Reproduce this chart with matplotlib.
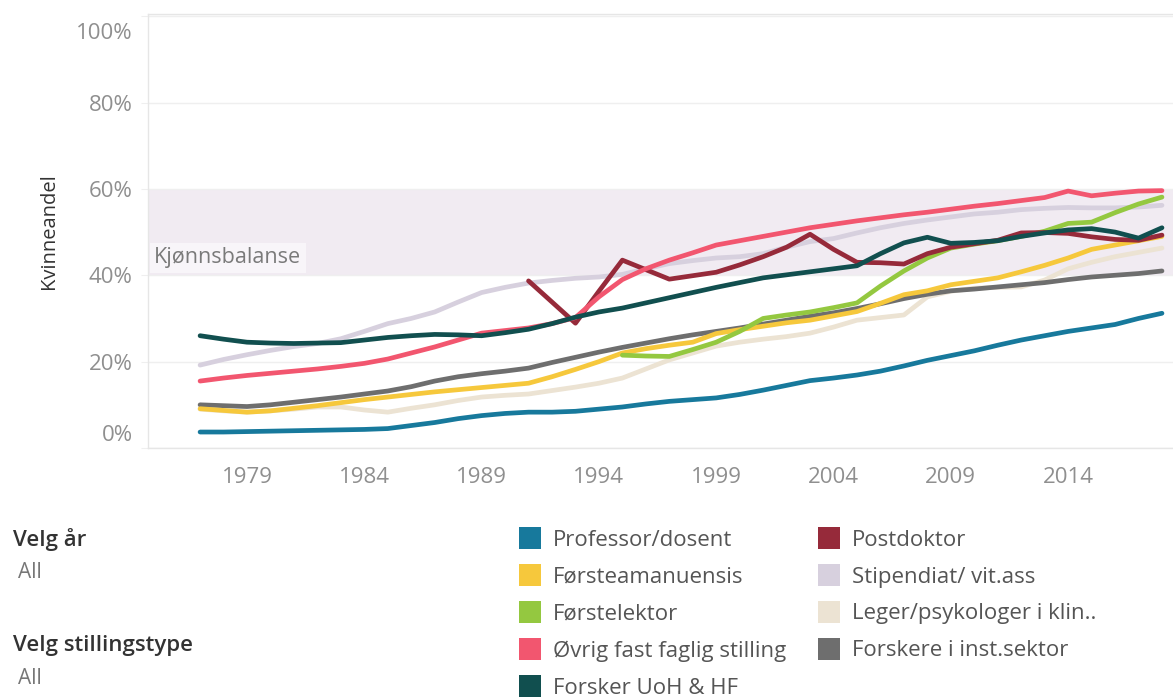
import matplotlib
matplotlib.use("Agg")
import matplotlib.pyplot as plt
import matplotlib.transforms as mtransforms
from matplotlib.patches import Rectangle

plt.rcParams['font.family'] = ['Open Sans', 'DejaVu Sans']

# ---- data (kvinneandel i prosent) ----
years = list(range(1977, 2019))

professor = [3.7, 3.7, 3.8, 3.9, 4.0, 4.1, 4.2, 4.3, 4.5, 5.2, 5.9, 6.8, 7.5, 8.0, 8.3,
             8.3, 8.5, 9.0, 9.5, 10.2, 10.8, 11.2, 11.6, 12.4, 13.4, 14.5, 15.6, 16.2,
             16.9, 17.8, 19.0, 20.3, 21.4, 22.5, 23.8, 25.0, 26.0, 27.0, 27.8, 28.6,
             30.0, 31.2]
forsteamanuensis = [9.1, 8.7, 8.3, 8.6, 9.2, 9.8, 10.5, 11.2, 11.8, 12.4, 13.0, 13.5, 14.0,
                    14.5, 15.0, 16.5, 18.2, 20.0, 22.0, 23.0, 23.8, 24.5, 26.5, 27.4, 28.2,
                    29.0, 29.6, 30.6, 31.6, 33.5, 35.5, 36.4, 37.8, 38.6, 39.4, 40.8, 42.3,
                    44.0, 46.0, 47.0, 48.0, 49.0]
forstelektor_years = list(range(1995, 2019))
forstelektor = [21.5, 21.3, 21.2, 22.8, 24.5, 27.0, 30.0, 30.8, 31.5, 32.5, 33.6, 37.5,
                41.0, 44.0, 46.3, 47.2, 48.0, 49.0, 50.2, 52.0, 52.3, 54.5, 56.5, 58.1]
ovrig = [15.5, 16.2, 16.8, 17.3, 17.8, 18.3, 18.9, 19.6, 20.6, 22.0, 23.4, 25.0, 26.6, 27.2,
         27.8, 28.8, 30.2, 35.0, 39.0, 41.5, 43.5, 45.2, 47.0, 48.0, 49.0, 50.0, 51.0, 51.8,
         52.6, 53.3, 54.0, 54.6, 55.3, 56.0, 56.6, 57.3, 58.0, 59.5, 58.4, 59.0, 59.5, 59.6]
forsker_uoh = [26.0, 25.2, 24.5, 24.3, 24.2, 24.3, 24.4, 25.0, 25.6, 26.0, 26.3, 26.2, 26.0,
               26.7, 27.5, 28.8, 30.3, 31.5, 32.4, 33.6, 34.8, 36.0, 37.2, 38.3, 39.4, 40.1,
               40.8, 41.5, 42.2, 45.0, 47.5, 48.8, 47.4, 47.6, 48.0, 49.0, 49.8, 50.5, 50.8,
               50.0, 48.6, 51.0]
postdoktor_years = list(range(1991, 2019))
postdoktor = [38.7, 33.8, 28.9, 36.3, 43.5, 41.3, 39.1, 39.9, 40.7, 42.4, 44.3, 46.5, 49.5,
              46.0, 43.0, 42.9, 42.6, 45.0, 46.5, 47.3, 48.1, 49.8, 49.9, 49.7, 48.9, 48.3,
              48.1, 49.3]
stipendiat = [19.2, 20.5, 21.6, 22.6, 23.5, 24.2, 25.3, 27.0, 28.8, 30.0, 31.5, 33.8, 36.0,
              37.2, 38.2, 38.8, 39.3, 39.6, 40.2, 41.5, 42.7, 43.4, 44.0, 44.3, 45.0, 46.5,
              47.8, 48.5, 49.8, 51.0, 52.0, 52.8, 53.5, 54.2, 54.6, 55.2, 55.5, 55.7, 55.6,
              55.6, 55.8, 56.2]
leger = [9.0, 8.6, 8.3, 8.6, 9.0, 9.5, 9.5, 8.8, 8.3, 9.2, 10.0, 11.0, 11.8, 12.2, 12.5, 13.3,
         14.1, 15.0, 16.2, 18.3, 20.4, 22.0, 23.6, 24.5, 25.2, 25.8, 26.6, 28.0, 29.6, 30.2,
         30.8, 35.0, 36.3, 37.0, 37.2, 37.3, 38.9, 41.5, 43.0, 44.3, 45.3, 46.3]
forskere_inst = [10.0, 9.8, 9.6, 10.0, 10.6, 11.2, 11.8, 12.5, 13.2, 14.2, 15.5, 16.5, 17.2,
                 17.8, 18.5, 19.8, 21.0, 22.2, 23.3, 24.3, 25.3, 26.2, 27.0, 27.8, 28.7, 29.6,
                 30.5, 31.3, 32.3, 33.4, 34.6, 35.6, 36.4, 36.8, 37.3, 37.8, 38.3, 39.0, 39.6,
                 40.0, 40.4, 41.0]

legend_labels = ['Professor/dosent', 'Førsteamanuensis', 'Førstelektor',
                 'Øvrig fast faglig stilling', 'Forsker UoH & HF',
                 'Postdoktor', 'Stipendiat/ vit.ass', 'Leger/psykologer i klin..',
                 'Forskere i inst.sektor']
y_ticks = [0, 20, 40, 60, 80, 100]
x_ticks = [1979, 1984, 1989, 1994, 1999, 2004, 2009, 2014]

colors = {
    'Professor/dosent': '#17799c',
    'Førsteamanuensis': '#f6c83c',
    'Førstelektor': '#94c840',
    'Øvrig fast faglig stilling': '#f2566f',
    'Forsker UoH & HF': '#114f4f',
    'Postdoktor': '#962a3a',
    'Stipendiat/ vit.ass': '#d7d0de',
    'Leger/psykologer i klin..': '#ece3d3',
    'Forskere i inst.sektor': '#6e6e6e',
}

series = [  # drawing order, bottom first
    ('Stipendiat/ vit.ass', years, stipendiat),
    ('Leger/psykologer i klin..', years, leger),
    ('Forskere i inst.sektor', years, forskere_inst),
    ('Førsteamanuensis', years, forsteamanuensis),
    ('Førstelektor', forstelektor_years, forstelektor),
    ('Professor/dosent', years, professor),
    ('Postdoktor', postdoktor_years, postdoktor),
    ('Øvrig fast faglig stilling', years, ovrig),
    ('Forsker UoH & HF', years, forsker_uoh),
]

W, H = 1173, 697
fig = plt.figure(figsize=(W / 100, H / 100), dpi=100)
ax = fig.add_axes([148 / W, 1 - 448 / H, 1 - 148 / W, 434 / H])

# gender balance band
ax.axhspan(40, 60, color='#f1ebf2', zorder=0, lw=0)
ax.text(1975.05, 44, 'Kjønnsbalanse', fontsize=15.5, color='#7a7a7a', va='center', ha='left',
        bbox=dict(boxstyle='square,pad=0.2', facecolor='white', alpha=0.55, edgecolor='none'),
        zorder=1)

for i, (name, xs, ys) in enumerate(series):
    ax.plot(xs, ys, color=colors[name], lw=3.4, solid_capstyle='round',
            solid_joinstyle='round', zorder=3 + i)

ax.set_xlim(1974.78, 2018.47)
ax.set_ylim(0, 100.5)
ax.set_yticks(y_ticks)
ax.set_yticklabels([f'{v}%' for v in y_ticks])
ax.set_xticks(x_ticks)
ax.set_xticklabels([str(v) for v in x_ticks])

ax.grid(axis='y', color='#efefef', lw=1)
ax.set_axisbelow(True)
for side in ['left', 'top', 'bottom']:
    ax.spines[side].set_color('#e6e6e6')
    ax.spines[side].set_linewidth(1)
ax.spines['right'].set_visible(False)

ax.tick_params(axis='y', length=5, color='#efefef', pad=6, labelsize=16, labelcolor='#8f8f8f')
ax.tick_params(axis='x', length=0, pad=14, labelsize=16, labelcolor='#8f8f8f')

# nudge the end labels inside the axis like the original
ticks = ax.yaxis.get_major_ticks()
for tick, dy in [(ticks[0], 11), (ticks[-1], -11)]:
    lab = tick.label1
    lab.set_transform(lab.get_transform() +
                      mtransforms.ScaledTranslation(0, dy / 72, fig.dpi_scale_trans))

ax.set_ylabel('Kvinneandel', fontsize=14.5, color='#333333', labelpad=12)

# legend, two columns of colour swatches
for i, lab in enumerate(legend_labels):
    col, row = divmod(i, 5)
    x0 = 519 + col * 299
    yc = 538 + row * 37
    fig.add_artist(Rectangle((x0 / W, 1 - (yc + 11) / H), 22 / W, 22 / H,
                             transform=fig.transFigure, facecolor=colors[lab],
                             edgecolor='none'))
    fig.text((x0 + 34) / W, 1 - (yc + 2) / H, lab, fontsize=16, color='#555555',
             va='center', ha='left')

# filter captions
fig.text(13 / W, 1 - 540 / H, 'Velg år', fontsize=16, color='#333333',
         weight='semibold', va='center')
fig.text(18 / W, 1 - 573 / H, 'All', fontsize=15, color='#777777', va='center')
fig.text(13 / W, 1 - 645 / H, 'Velg stillingstype', fontsize=16, color='#333333',
         weight='semibold', va='center')
fig.text(18 / W, 1 - 679 / H, 'All', fontsize=15, color='#777777', va='center')

fig.savefig('out.png', dpi=100, facecolor='white')
